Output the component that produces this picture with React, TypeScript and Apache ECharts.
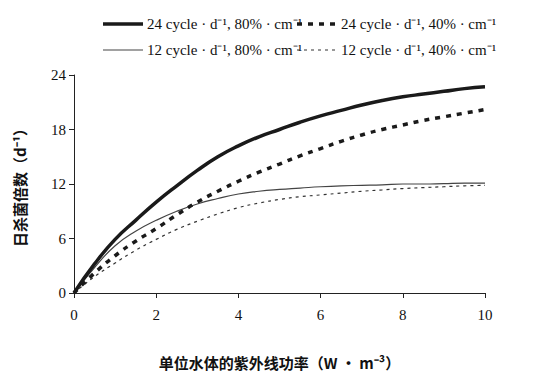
import React, { useEffect, useRef } from "react";
import * as echarts from "echarts";

const xValues = [0, 0.5, 1, 1.5, 2, 2.5, 3, 3.5, 4, 4.5, 5, 5.5, 6, 6.5, 7, 7.5, 8, 8.5, 9, 9.5, 10];
const s24_80 = [0, 3.2, 5.9, 8.0, 10.0, 11.8, 13.5, 15.0, 16.2, 17.2, 18.0, 18.8, 19.5, 20.1, 20.7, 21.2, 21.6, 21.9, 22.2, 22.5, 22.7];
const s24_40 = [0, 2.2, 4.1, 5.7, 7.1, 8.6, 10.0, 11.2, 12.3, 13.3, 14.2, 15.1, 15.9, 16.7, 17.4, 18.0, 18.5, 19.0, 19.4, 19.8, 20.2];
const s12_80 = [0, 2.8, 5.2, 6.8, 8.0, 9.0, 9.8, 10.4, 10.9, 11.2, 11.4, 11.55, 11.7, 11.8, 11.85, 11.9, 12.0, 12.0, 12.05, 12.1, 12.1];
const s12_40 = [0, 1.8, 3.3, 4.7, 5.9, 7.0, 7.9, 8.7, 9.4, 9.9, 10.3, 10.6, 10.8, 11.0, 11.2, 11.35, 11.5, 11.6, 11.7, 11.8, 11.85];
const seriesNames = [
  "24 cycle · d⁻¹, 80% · cm⁻¹",
  "24 cycle · d⁻¹, 40% · cm⁻¹",
  "12 cycle · d⁻¹, 80% · cm⁻¹",
  "12 cycle · d⁻¹, 40% · cm⁻¹",
];
const xAxisName = "单位水体的紫外线功率（W · m⁻³）";
const yAxisName = "日杀菌倍数（d⁻¹）";

const pairs = (ys: number[]) => xValues.map((x, i) => [x, ys[i]]);

const styles = [
  { color: "#1a1a1a", width: 3.5, type: "solid" as any },
  { color: "#1a1a1a", width: 3.5, type: [5, 6] as any },
  { color: "#444", width: 1.2, type: "solid" as any },
  { color: "#333", width: 1.2, type: [3, 4] as any },
];

export default function App() {
  const ref = useRef<HTMLDivElement>(null);
  useEffect(() => {
    const chart = echarts.init(ref.current!, null, { renderer: "svg" });
    const serif = "Liberation Serif";
    const cjk = "Noto Sans CJK SC";
    const legendPos = [
      { x: 103, y: 24 },
      { x: 297, y: 24 },
      { x: 103, y: 50 },
      { x: 297, y: 50 },
    ];
    const graphic: any[] = [];
    seriesNames.forEach((name, i) => {
      const p = legendPos[i];
      const st = styles[i];
      graphic.push({
        type: "line",
        shape: { x1: p.x, y1: p.y, x2: p.x + 40, y2: p.y },
        style: {
          stroke: st.color,
          lineWidth: st.width,
          lineDash: Array.isArray(st.type) ? st.type : null,
        },
      });
      graphic.push({
        type: "text",
        x: p.x + 44,
        y: p.y,
        style: {
          text: name,
          font: `15px ${serif}`,
          fill: "#111",
          verticalAlign: "middle",
          align: "left",
        },
      });
    });
    const tickLabel = {
      formatter: "{t|{value}}",
      rich: { t: { fontFamily: serif, fontSize: 15, color: "#111" } },
    };
    chart.setOption({
      animation: false,
      backgroundColor: "#fff",
      textStyle: { fontFamily: serif },
      grid: { left: 74, right: 51, top: 75, bottom: 95, containLabel: false },
      graphic,
      xAxis: {
        type: "value",
        min: 0,
        max: 10,
        interval: 2,
        name: xAxisName,
        nameLocation: "middle",
        nameGap: 62,
        nameTextStyle: { fontFamily: cjk, fontSize: 15, fontWeight: "bold", color: "#111" },
        axisLine: { lineStyle: { color: "#222", width: 1 } },
        axisTick: { show: true, length: 5, lineStyle: { color: "#222" } },
        axisLabel: { ...tickLabel, margin: 14 },
        splitLine: { show: false },
      },
      yAxis: {
        type: "value",
        min: 0,
        max: 24,
        interval: 6,
        name: yAxisName,
        nameLocation: "middle",
        nameGap: 47,
        nameRotate: 90,
        nameTextStyle: { fontFamily: cjk, fontSize: 15, fontWeight: "bold", color: "#111" },
        axisLine: { show: true, lineStyle: { color: "#222", width: 1 } },
        axisTick: { show: true, length: 5, lineStyle: { color: "#222" } },
        axisLabel: { ...tickLabel, margin: 8 },
        splitLine: { show: false },
      },
      series: [
        { idx: 3, data: s12_40, z: 1 },
        { idx: 2, data: s12_80, z: 2 },
        { idx: 1, data: s24_40, z: 3 },
        { idx: 0, data: s24_80, z: 4 },
      ].map((s) => ({
        name: seriesNames[s.idx],
        type: "line",
        data: pairs(s.data),
        smooth: true,
        showSymbol: false,
        symbol: "none",
        z: s.z,
        lineStyle: styles[s.idx],
        itemStyle: { color: styles[s.idx].color },
      })),
    });
    return () => chart.dispose();
  }, []);
  return <div ref={ref} style={{ width: 536, height: 388, position: "absolute", left: 0, top: 0 }} />;
}
